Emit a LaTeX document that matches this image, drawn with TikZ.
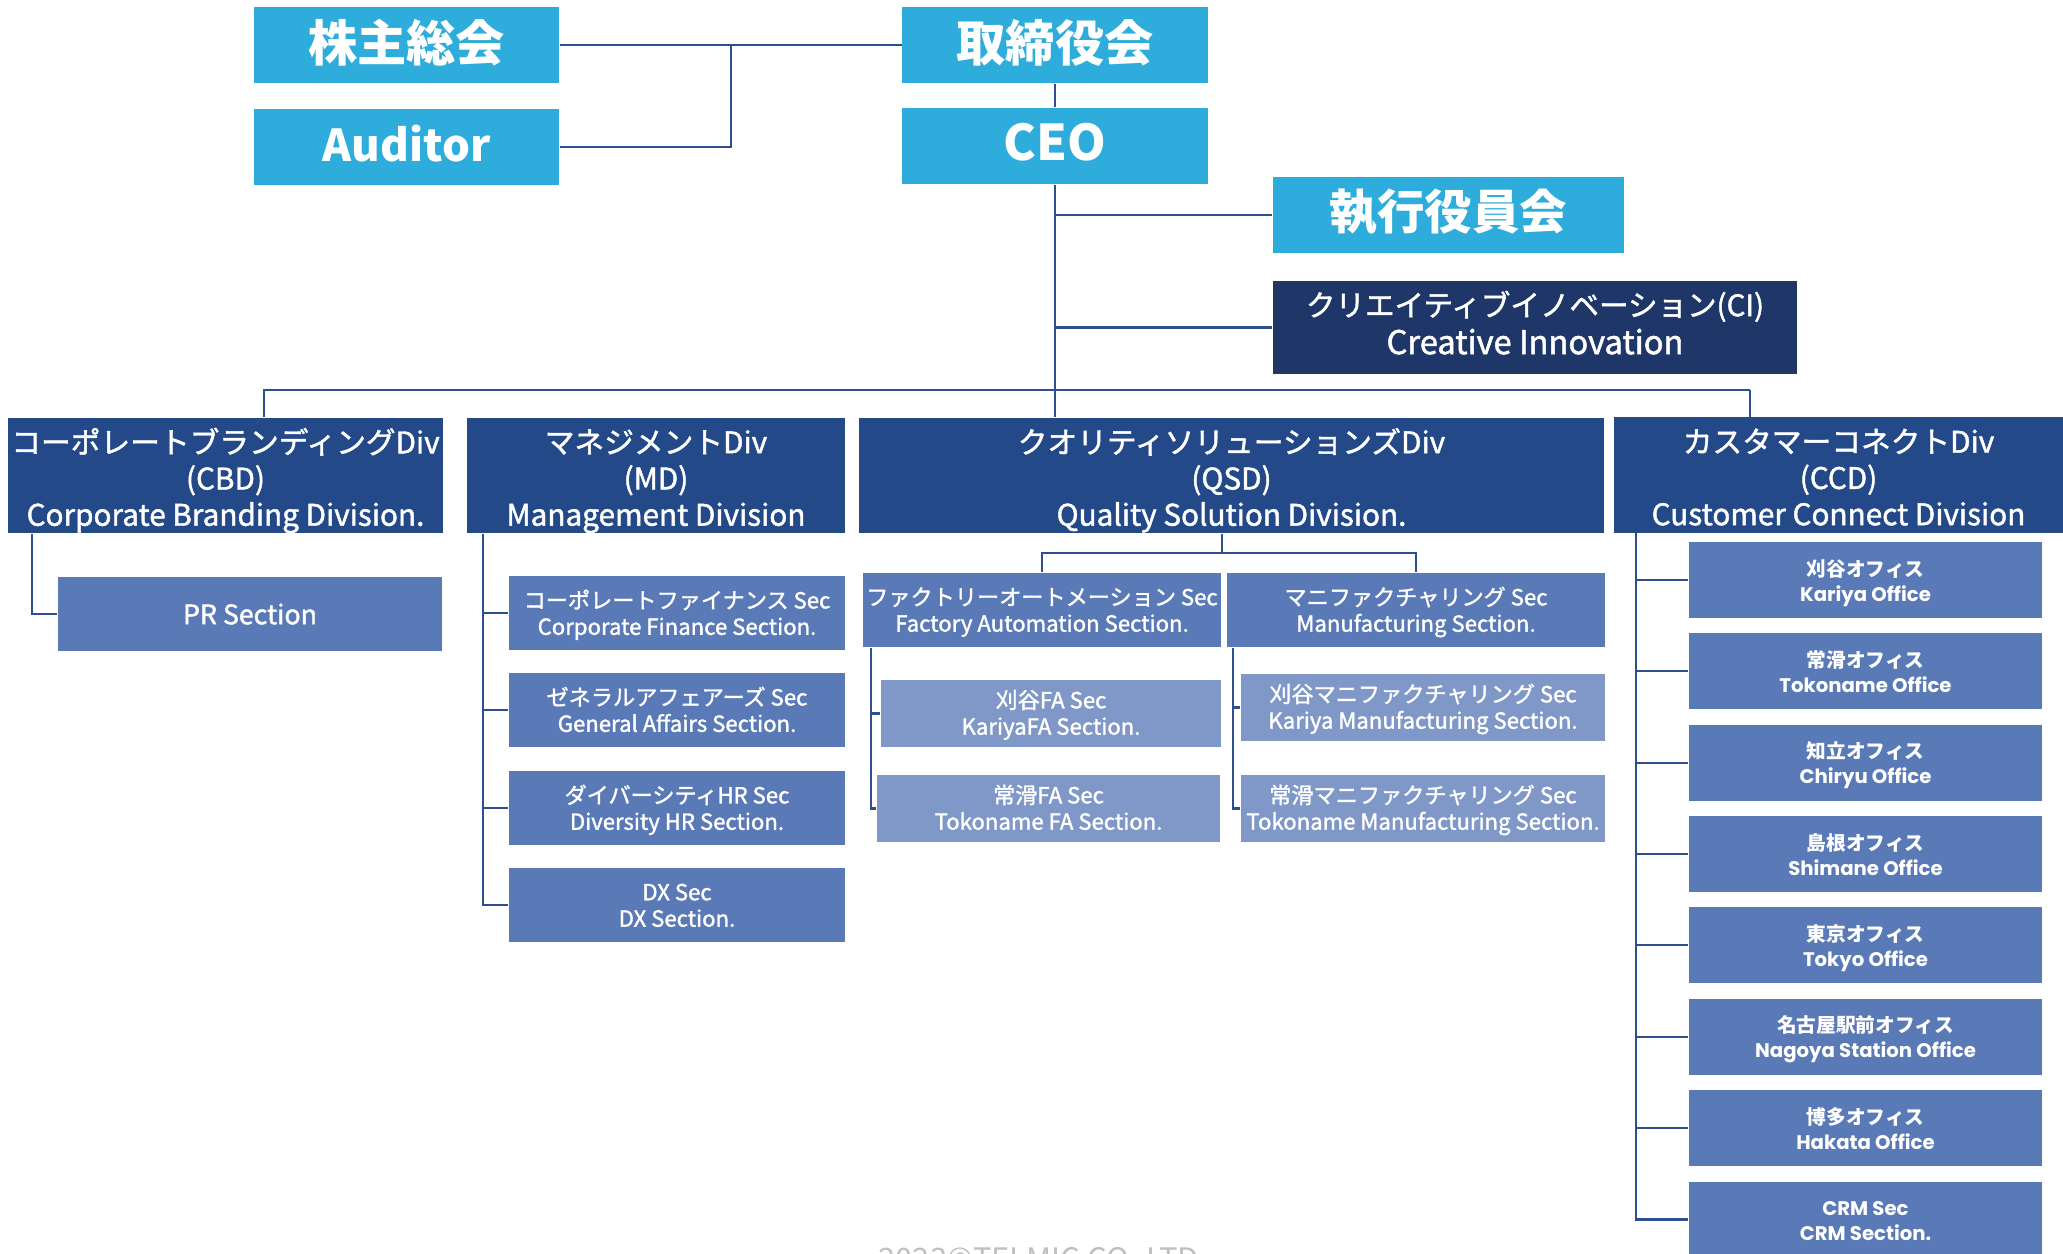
\documentclass[tikz,border=0pt]{standalone}
\usepackage{fontspec}
\newfontfamily\jpfont{Noto Sans CJK JP}
\newfontfamily\jpmfont{Noto Sans CJK JP}[FakeBold=1.5]
\newfontfamily\wdfont{Poppins}
\usetikzlibrary{positioning}

\definecolor{topblue}{HTML}{2EACDB}
\definecolor{navy}{HTML}{1E3768}
\definecolor{divblue}{HTML}{234989}
\definecolor{secblue}{HTML}{5A79B7}
\definecolor{subblue}{HTML}{7F98C8}
\definecolor{linkblue}{HTML}{2F4E8F}

\def\txtshift{0pt}
\newcommand\mv[1]{\raisebox{\txtshift}[\height][\depth]{\begin{tabular}{@{}c@{}}#1\end{tabular}}}

\tikzset{vh/.style={to path={|- (\tikztotarget)}},
         hv/.style={to path={-| (\tikztotarget)}},
         shift text/.style={execute at begin node={\def\txtshift{#1}}}}

\begin{document}
\begin{tikzpicture}[x=0.01cm,y=-0.01cm]
            \useasboundingbox (0,0) rectangle (2063,1253);

            \begin{scope}[every node/.style={fill=topblue,text=white,inner sep=0pt,
                minimum width=3.05cm,minimum height=0.76cm,shift text=-1.1pt,
                font=\jpfont\bfseries\fontsize{14}{16}\selectfont}]
                \node (agm) at (406.5,45) {\mv{株主総会}};
                \node[shift text=-0.8pt,font=\jpfont\bfseries\fontsize{12.5}{16}\selectfont] (aud) at (406.5,147) {\mv{Auditor}};
                \node (brd) at (1055,45) {\mv{取締役会}};
                \node[shift text=-0.8pt] (ceo) at (1055,146) {\mv{CEO}};
                \node[minimum width=3.51cm,shift text=-0.7pt,font=\jpfont\bfseries\fontsize{13.5}{16}\selectfont] (exe) at (1448.5,215) {\mv{執行役員会}};
            \end{scope};

            \begin{scope}[every node/.style={fill=navy,text=white,inner sep=0pt,
                minimum width=5.24cm,minimum height=0.93cm,shift text=0pt,
                font=\jpmfont\fontsize{8.4}{10.8}\selectfont}]
                \node (ci) at (1535,327.5) {\mv{クリエイティブイノベーション(CI)\\{\fontsize{9.3}{10.8}\selectfont Creative Innovation}}};
            \end{scope};

            \begin{scope}[every node/.style={fill=divblue,text=white,inner sep=0pt,
                minimum height=1.15cm,shift text=-1.9pt,
                font=\jpmfont\fontsize{8.45}{10.3}\selectfont}]
                \node[minimum width=4.35cm] (cbd) at (225.5,475.5) {\mv{コーポレートブランディングDiv\\(CBD)\\Corporate Branding Division.}};
                \node[minimum width=3.78cm] (md) at (656,475.5) {\mv{マネジメントDiv\\(MD)\\Management Division}};
                \node[minimum width=7.45cm] (qsd) at (1231.5,475.5) {\mv{クオリティソリューションズDiv\\(QSD)\\Quality Solution Division.}};
                \node[minimum width=4.49cm] (ccd) at (1838.5,475) {\mv{カスタマーコネクトDiv\\(CCD)\\Customer Connect Division}};
            \end{scope};

            \begin{scope}[every node/.style={fill=secblue,text=white,inner sep=0pt,
                minimum height=0.74cm,shift text=-0.9pt,
                font=\jpmfont\fontsize{6.3}{7.5}\selectfont}]
                \node[minimum width=3.84cm,shift text=-1.1pt,font=\jpmfont\fontsize{7.6}{9}\selectfont] (pr) at (250,614) {\mv{PR Section}};
                \node[minimum width=3.36cm] (cf) at (677,613) {\mv{コーポレートファイナンス Sec\\Corporate Finance Section.}};
                \node[minimum width=3.36cm] (ga) at (677,710) {\mv{ゼネラルアフェアーズ Sec\\General Affairs Section.}};
                \node[minimum width=3.36cm] (dhr) at (677,808) {\mv{ダイバーシティHR Sec\\Diversity HR Section.}};
                \node[minimum width=3.36cm] (dx) at (677,905) {\mv{DX Sec\\DX Section.}};
                \node[minimum width=3.58cm] (fa) at (1042,610) {\mv{ファクトリーオートメーション Sec\\Factory Automation Section.}};
                \node[minimum width=3.78cm] (mfg) at (1416,610) {\mv{マニファクチャリング Sec\\Manufacturing Section.}};
            \end{scope};

            \begin{scope}[every node/.style={fill=subblue,text=white,inner sep=0pt,
                minimum height=0.67cm,shift text=-0.75pt,
                font=\jpmfont\fontsize{6.3}{7.5}\selectfont}]
                \node[minimum width=3.40cm] (kfa) at (1051,713.5) {\mv{刈谷FA Sec\\KariyaFA Section.}};
                \node[minimum width=3.43cm] (tfa) at (1048.5,808.5) {\mv{常滑FA Sec\\Tokoname FA Section.}};
                \node[minimum width=3.64cm] (kmfg) at (1423,707.5) {\mv{刈谷マニファクチャリング Sec\\Kariya Manufacturing Section.}};
                \node[minimum width=3.64cm] (tmfg) at (1423,808.5) {\mv{常滑マニファクチャリング Sec\\Tokoname Manufacturing Section.}};
            \end{scope};

            \begin{scope}[every node/.style={fill=secblue,text=white,inner sep=0pt,
                minimum width=3.53cm,minimum height=0.76cm,shift text=-1pt,
                font=\wdfont\bfseries\fontsize{5.6}{7.1}\selectfont}]
                \foreach \jt/\et [count=\i] in {刈谷オフィス/Kariya Office,常滑オフィス/Tokoname Office,
                    知立オフィス/Chiryu Office,島根オフィス/Shimane Office,東京オフィス/Tokyo Office,
                    名古屋駅前オフィス/Nagoya Station Office,博多オフィス/Hakata Office}
                    \node (ofc\i) at (1865.5,{580+91.35*(\i-1)}) {\mv{{\jpfont\jt}\\\et}};
                \node (ofc8) at (1865.5,1219.5) {\mv{CRM Sec\\CRM Section.}};
            \end{scope};

            \node[text=black!25,inner sep=0pt,anchor=north,
                font=\jpfont\fontsize{8.8}{10}\selectfont] (copy) at (1043,1247) {2023©TELMIC CO.,LTD.};

            \coordinate (aj) at (731,45);
            \coordinate (bl) at (264,390);
            \coordinate (br) at (1750,390);
            \coordinate (qj) at (1222,553);

            \begin{scope}[every edge/.style={draw=linkblue,line width=0.6pt}]
                \path [-] (agm) edge (brd);
                \path [-] (aud) edge[hv] (aj);
                \path [-] (brd) edge (ceo);
                \path [-] (ceo) edge (ceo |- qsd.north);
                \path [-] (exe) edge (exe -| ceo);
                \path [-] (ci) edge (ci -| ceo);
                \path [-] (bl |- cbd.north) edge[vh] (br);
                \path [-] (br) edge (br |- ccd.north);
                \path [-] ([xshift=0.25cm]cbd.south west) edge[vh] (pr.west);
                \foreach \s in {cf,ga,dhr,dx}
                    \path [-] ([xshift=0.17cm]md.south west) edge[vh] (\s.west);
                \path [-] (qsd.south -| qj) edge (qj);
                \path [-] (fa.north) edge[vh] (qj);
                \path [-] (qj) edge[hv] (mfg.north);
                \foreach \s in {kfa,tfa}
                    \path [-] ([xshift=0.09cm]fa.south west) edge[vh] (\s.west);
                \foreach \s in {kmfg,tmfg}
                    \path [-] ([xshift=0.07cm]mfg.south west) edge[vh] (\s.west);
                \foreach \i in {1,...,8}
                    \path [-] ([xshift=0.23cm]ccd.south west) edge[vh] (ofc\i.west);
            \end{scope}
        \end{tikzpicture}
\end{document}
